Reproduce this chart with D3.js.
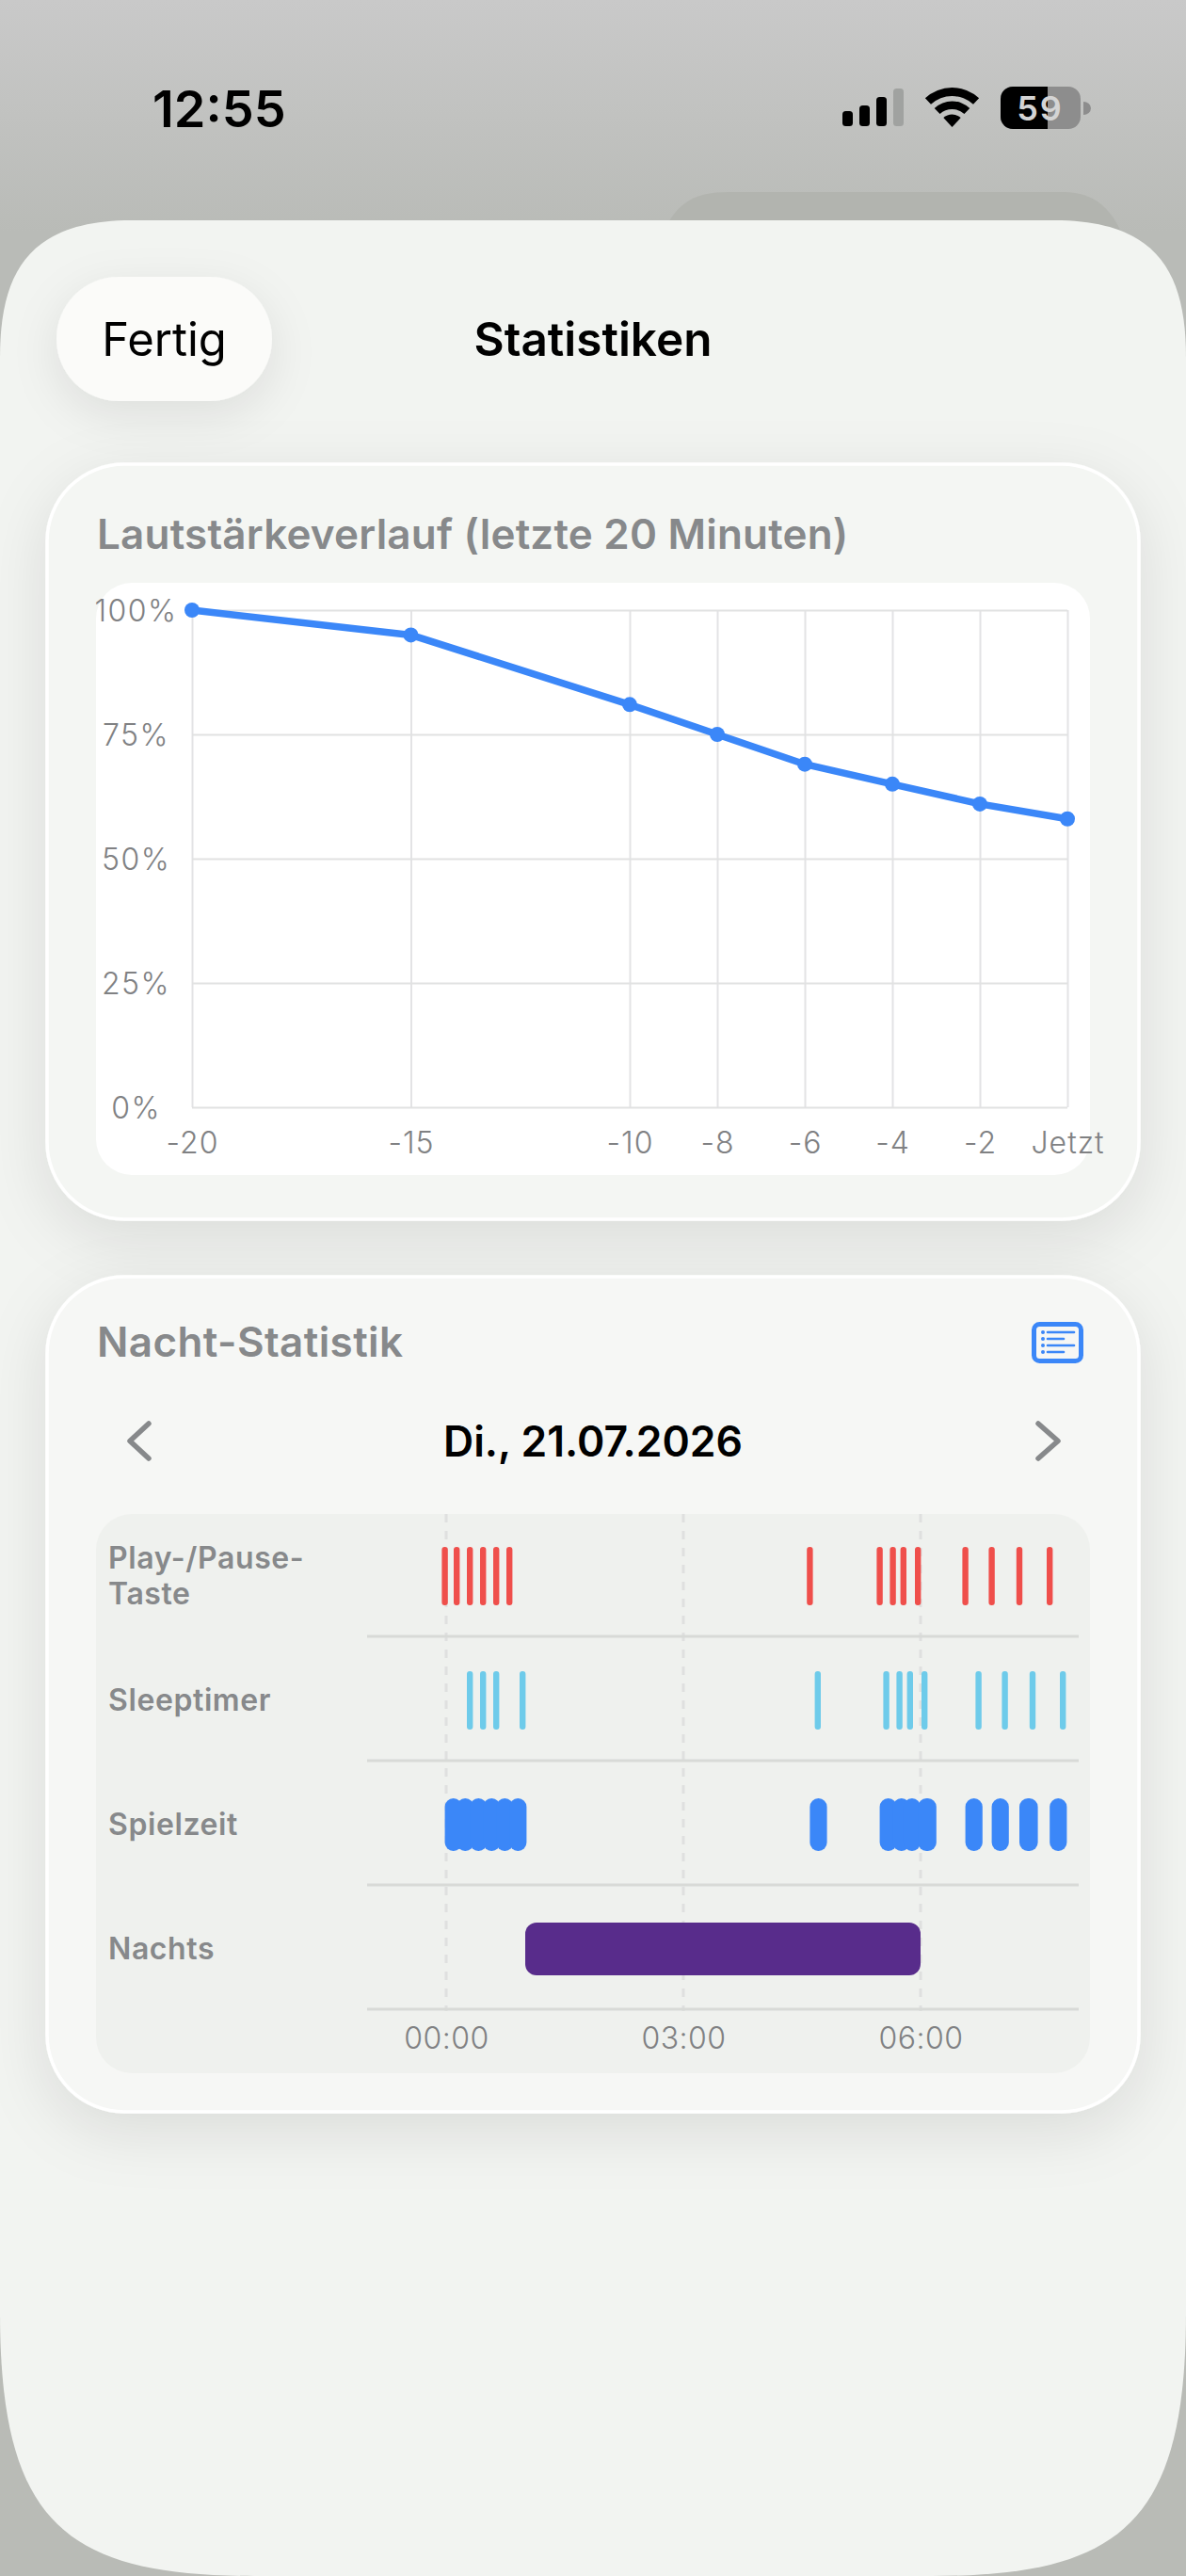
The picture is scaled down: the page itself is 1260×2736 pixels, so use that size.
<!DOCTYPE html>
<html>
<head>
<meta charset="utf-8">
<script src="https://cdn.jsdelivr.net/npm/d3@7"></script>
<style>
    body { margin: 0; background: #b9bbb6; }
    svg { display: block; }
    text { font-family: Inter, "Noto Sans", sans-serif; }
    .domain { display: none; }
</style>
</head>
<body>
<div id="chart"></div>
<script>
// Lautstaerkeverlauf
const volumeMinutes = [-20, -15, -10, -8, -6, -4, -2, 0];
const volumeValues = [100, 95, 81, 75, 69, 65, 61, 58];
const volumeTicks = [0, 25, 50, 75, 100];
const volumeXLabels = ["-20", "-15", "-10", "-8", "-6", "-4", "-2", "Jetzt"];

// Nacht-Statistik, all times are minutes after midnight
const rowNames = ["Play-/Pause-Taste", "Sleeptimer", "Spielzeit", "Nachts"];
const playPause = [-1, 8, 18, 28, 38, 48, 276, 329, 339, 347, 358, 394, 414, 435, 458];
const sleepTimer = [18, 28, 38, 58, 282, 334, 344, 352, 363, 404, 424, 445, 468];
const playStart = [-1, 8, 18, 28, 38, 48, 276, 329, 339, 347, 358, 394, 414, 435, 458];
const playEnd = [12, 21, 31, 41, 51, 61, 289, 342, 352, 360, 372, 407, 427, 449, 471];
const nightStart = [60];
const nightEnd = [360];
const timeTicks = [0, 180, 360];
const timeLabels = ["00:00", "03:00", "06:00"];

const gray = "#87898b";
const axisGray = "#808183";
const blue = "#3b87f8";

const svg = d3.select("#chart").append("svg")
    .attr("width", 1260)
    .attr("height", 2736);

const defs = svg.append("defs");

const bgGrad = defs.append("linearGradient")
    .attr("id", "bg-grad")
    .attr("x1", "0%").attr("y1", "0%")
    .attr("x2", "0%").attr("y2", "100%");
bgGrad.append("stop").attr("offset", "0%").attr("stop-color", "#c9c9c9");
bgGrad.append("stop").attr("offset", "9%").attr("stop-color", "#b9bbb7");
bgGrad.append("stop").attr("offset", "100%").attr("stop-color", "#b9bbb6");

const shadow = defs.append("filter")
    .attr("id", "card-shadow")
    .attr("x", "-20%").attr("y", "-20%")
    .attr("width", "140%").attr("height", "150%");
shadow.append("feDropShadow")
    .attr("dx", 0).attr("dy", 18)
    .attr("stdDeviation", 32)
    .attr("flood-color", "#000")
    .attr("flood-opacity", 0.1);

const btnShadow = defs.append("filter")
    .attr("id", "btn-shadow")
    .attr("x", "-40%").attr("y", "-40%")
    .attr("width", "180%").attr("height", "200%");
btnShadow.append("feDropShadow")
    .attr("dx", 0).attr("dy", 14)
    .attr("stdDeviation", 24)
    .attr("flood-color", "#000")
    .attr("flood-opacity", 0.09);

svg.append("rect")
    .attr("width", 1260).attr("height", 2736)
    .attr("fill", "url(#bg-grad)");

// sheet behind the main one
svg.append("path")
    .attr("d", "M708,240 C722,214 740,204 775,204 L1130,204 C1165,204 1185,225 1196,260 Z")
    .attr("fill", "#b2b4af");

// main sheet
svg.append("path")
    .attr("d", "M0,380 C0,290 30,234 140,234 L1120,234 C1230,234 1260,290 1260,380 L1260,2456 C1260,2680 1190,2736 990,2736 L270,2736 C70,2736 0,2680 0,2456 Z")
    .attr("fill", "#f2f4f1");

drawStatusBar();

// header
svg.append("rect")
    .attr("x", 60).attr("y", 294)
    .attr("width", 229).attr("height", 132)
    .attr("rx", 66)
    .attr("fill", "#fbfbf9")
    .attr("filter", "url(#btn-shadow)");
svg.append("text")
    .attr("x", 174.5).attr("y", 378)
    .attr("text-anchor", "middle")
    .attr("font-size", 49)
    .attr("fill", "#000")
    .text("Fertig");
svg.append("text")
    .attr("x", 630).attr("y", 378)
    .attr("text-anchor", "middle")
    .attr("font-size", 49.5)
    .attr("font-weight", 600)
    .attr("fill", "#000")
    .text("Statistiken");

drawCard(493, 802, "#f4f6f3");
drawCard(1356, 887, "#f6f7f5");

drawVolumeChart();
drawNightChart();

function drawCard(top, height, fill) {
    svg.append("rect")
        .attr("x", 50).attr("y", top)
        .attr("width", 1160).attr("height", height)
        .attr("rx", 82)
        .attr("fill", fill)
        .attr("stroke", "#fff")
        .attr("stroke-width", 3.5)
        .attr("filter", "url(#card-shadow)");
}

function drawVolumeChart() {
    svg.append("text")
        .attr("x", 103).attr("y", 583)
        .attr("font-size", 44)
        .attr("font-weight", 600)
        .attr("letter-spacing", 0.2)
        .attr("fill", gray)
        .text("Lautstärkeverlauf (letzte 20 Minuten)");

    svg.append("rect")
        .attr("x", 102).attr("y", 619)
        .attr("width", 1056).attr("height", 629)
        .attr("rx", 38)
        .attr("fill", "#fff");

    const x = d3.scaleLinear().domain([-20, 0]).range([204, 1134]);
    const y = d3.scaleLinear().domain([0, 100]).range([1176, 648]);

    const xAxis = d3.axisBottom(x)
        .tickValues(volumeMinutes)
        .tickSize(-(y(0) - y(100)))
        .tickPadding(26)
        .tickFormat((d, i) => volumeXLabels[i]);

    const yAxis = d3.axisLeft(y)
        .tickValues(volumeTicks)
        .tickSize(-(x(0) - x(-20)))
        .tickFormat(d => d + "%");

    const gx = svg.append("g")
        .attr("transform", `translate(0,${y(0)})`)
        .call(xAxis);
    const gy = svg.append("g")
        .attr("transform", `translate(${x(-20)},0)`)
        .call(yAxis);

    gx.selectAll("line").attr("stroke", "#e3e3e5").attr("stroke-width", 2);
    gy.selectAll("line").attr("stroke", "#e1e2e2").attr("stroke-width", 2);

    gx.selectAll("text")
        .attr("font-family", "Inter")
        .attr("font-size", 32)
        .attr("font-weight", 300)
        .attr("letter-spacing", 1)
        .attr("fill", axisGray);
    gy.selectAll("text")
        .attr("x", 144.5 - x(-20))
        .attr("dy", "0.36em")
        .attr("text-anchor", "middle")
        .attr("font-family", "Inter")
        .attr("font-size", 32)
        .attr("font-weight", 300)
        .attr("letter-spacing", 1.5)
        .attr("fill", axisGray);

    const points = volumeMinutes.map((m, i) => [m, volumeValues[i]]);

    svg.append("path")
        .datum(points)
        .attr("fill", "none")
        .attr("stroke", blue)
        .attr("stroke-width", 7.5)
        .attr("stroke-linejoin", "round")
        .attr("d", d3.line().x(d => x(d[0])).y(d => y(d[1])));

    svg.selectAll(".volume-dot")
        .data(points)
        .enter()
        .append("circle")
        .attr("class", "volume-dot")
        .attr("cx", d => x(d[0]))
        .attr("cy", d => y(d[1]))
        .attr("r", 8)
        .attr("fill", blue);
}

function drawNightChart() {
    svg.append("text")
        .attr("x", 103).attr("y", 1441)
        .attr("font-size", 44)
        .attr("font-weight", 600)
        .attr("letter-spacing", 0.4)
        .attr("fill", gray)
        .text("Nacht-Statistik");

    // list icon
    const icon = svg.append("g");
    icon.append("rect")
        .attr("x", 1098.5).attr("y", 1406.5)
        .attr("width", 50).attr("height", 39)
        .attr("rx", 6)
        .attr("fill", "none")
        .attr("stroke", blue)
        .attr("stroke-width", 5);
    [[1415, 1141], [1422, 1130], [1429, 1141], [1436, 1130]].forEach(([ly, lx]) => {
        icon.append("circle").attr("cx", 1108).attr("cy", ly).attr("r", 2).attr("fill", blue);
        icon.append("line")
            .attr("x1", 1113).attr("x2", lx)
            .attr("y1", ly).attr("y2", ly)
            .attr("stroke", blue)
            .attr("stroke-width", 2.6)
            .attr("stroke-linecap", "round");
    });

    // date row
    [["M158,1512 L138,1530.5 L158,1549"], ["M1103,1512 L1124,1530.5 L1103,1549"]].forEach(([d]) => {
        svg.append("path")
            .attr("d", d)
            .attr("fill", "none")
            .attr("stroke", gray)
            .attr("stroke-width", 5.5)
            .attr("stroke-linecap", "round")
            .attr("stroke-linejoin", "round");
    });
    svg.append("text")
        .attr("x", 630).attr("y", 1547)
        .attr("text-anchor", "middle")
        .attr("font-size", 44.5)
        .attr("font-weight", 600)
        .attr("fill", "#000")
        .text("Di., 21.07.2026");

    svg.append("rect")
        .attr("x", 102).attr("y", 1608)
        .attr("width", 1056).attr("height", 594)
        .attr("rx", 38)
        .attr("fill", "#eff1ee");

    const x = d3.scaleLinear().domain([-60, 480]).range([390, 1146]);
    const y = d3.scaleBand().domain(rowNames).range([1608, 2136]);

    // dashed hour lines
    svg.selectAll(".hour-line")
        .data(timeTicks)
        .enter()
        .append("line")
        .attr("class", "hour-line")
        .attr("x1", d => x(d)).attr("x2", d => x(d))
        .attr("y1", 1608).attr("y2", 2136)
        .attr("stroke", "#dfe0df")
        .attr("stroke-width", 3)
        .attr("stroke-dasharray", "9 9");

    // row separators
    svg.selectAll(".row-line")
        .data(rowNames)
        .enter()
        .append("line")
        .attr("class", "row-line")
        .attr("x1", x(-60)).attr("x2", x(480))
        .attr("y1", d => y(d) + y.bandwidth() - 2)
        .attr("y2", d => y(d) + y.bandwidth() - 2)
        .attr("stroke", "#d8dad7")
        .attr("stroke-width", 3);

    // row labels
    const labels = svg.selectAll(".row-label")
        .data(rowNames)
        .enter()
        .append("text")
        .attr("class", "row-label")
        .attr("x", 115)
        .attr("y", d => y(d) + y.bandwidth() / 2 + 11)
        .attr("font-size", 32)
        .attr("font-weight", 600)
        .attr("letter-spacing", 0.6)
        .attr("fill", gray);
    labels.each(function (d) {
        const label = d3.select(this);
        if (d === "Play-/Pause-Taste") {
            label.attr("y", null);
            label.append("tspan").attr("x", 115).attr("y", 1666).text("Play-/Pause-");
            label.append("tspan").attr("x", 115).attr("y", 1704).text("Taste");
        } else {
            label.text(d);
        }
    });

    // tick marks
    drawTicks(playPause, "Play-/Pause-Taste", "#ef4f4b", x, y);
    drawTicks(sleepTimer, "Sleeptimer", "#6ecbea", x, y);

    // play time bars
    svg.selectAll(".play-bar")
        .data(playStart.map((s, i) => [s, playEnd[i]]))
        .enter()
        .append("rect")
        .attr("class", "play-bar")
        .attr("x", d => x(d[0]))
        .attr("width", d => x(d[1]) - x(d[0]))
        .attr("y", y("Spielzeit") + y.bandwidth() / 2 - 28)
        .attr("height", 56)
        .attr("rx", 9)
        .attr("fill", blue);

    // night span
    svg.selectAll(".night-bar")
        .data(nightStart.map((s, i) => [s, nightEnd[i]]))
        .enter()
        .append("rect")
        .attr("class", "night-bar")
        .attr("x", d => x(d[0]))
        .attr("width", d => x(d[1]) - x(d[0]))
        .attr("y", y("Nachts") + y.bandwidth() / 2 - 28)
        .attr("height", 56)
        .attr("rx", 12)
        .attr("fill", "#582c8b");

    // time axis
    const axis = d3.axisBottom(x)
        .tickValues(timeTicks)
        .tickSize(0)
        .tickPadding(19)
        .tickFormat((d, i) => timeLabels[i]);
    const gt = svg.append("g")
        .attr("transform", "translate(0,2134)")
        .call(axis);
    gt.selectAll("text")
        .attr("font-family", "Inter")
        .attr("font-size", 32)
        .attr("font-weight", 300)
        .attr("letter-spacing", 0.5)
        .attr("fill", axisGray);
}

function drawTicks(values, row, color, x, y) {
    svg.selectAll(null)
        .data(values)
        .enter()
        .append("rect")
        .attr("x", d => x(d) - 3.2)
        .attr("width", 6.4)
        .attr("y", y(row) + y.bandwidth() / 2 - 31)
        .attr("height", 62)
        .attr("rx", 3)
        .attr("fill", color);
}

function drawStatusBar() {
    svg.append("text")
        .attr("x", 162).attr("y", 135)
        .attr("font-size", 54)
        .attr("font-weight", 600)
        .attr("fill", "#000")
        .text("12:55");

    // signal
    [[895, 118, "#000"], [913, 112, "#000"], [931, 103, "#000"], [949, 94, "#a0a2a0"]].forEach(([bx, by, c]) => {
        svg.append("rect")
            .attr("x", bx).attr("y", by)
            .attr("width", 11).attr("height", 134 - by)
            .attr("rx", 3.5)
            .attr("fill", c);
    });

    // wifi
    const arc = d3.arc().startAngle(-0.75).endAngle(0.75);
    const wifi = svg.append("g").attr("transform", "translate(1011.5,135)");
    [[33, 42], [19, 27.5], [0, 13.5]].forEach(([inner, outer]) => {
        wifi.append("path")
            .attr("d", arc({ innerRadius: inner, outerRadius: outer }))
            .attr("fill", "#000");
    });

    // battery
    defs.append("clipPath").attr("id", "battery-clip")
        .append("rect")
        .attr("x", 1063).attr("y", 92)
        .attr("width", 85).attr("height", 45)
        .attr("rx", 13);
    const battery = svg.append("g").attr("clip-path", "url(#battery-clip)");
    battery.append("rect")
        .attr("x", 1063).attr("y", 92)
        .attr("width", 85).attr("height", 45)
        .attr("fill", "#8d8d8d");
    battery.append("rect")
        .attr("x", 1063).attr("y", 92)
        .attr("width", 50).attr("height", 45)
        .attr("fill", "#000");
    svg.append("path")
        .attr("d", "M1151,108 A8,7 0 0 1 1151,122 Z")
        .attr("fill", "#8d8d8d");
    svg.append("text")
        .attr("x", 1105).attr("y", 128)
        .attr("text-anchor", "middle")
        .attr("font-size", 36)
        .attr("font-weight", 600)
        .attr("letter-spacing", 2)
        .attr("fill", "#d4d4d4")
        .text("59");
}
</script>
</body>
</html>
